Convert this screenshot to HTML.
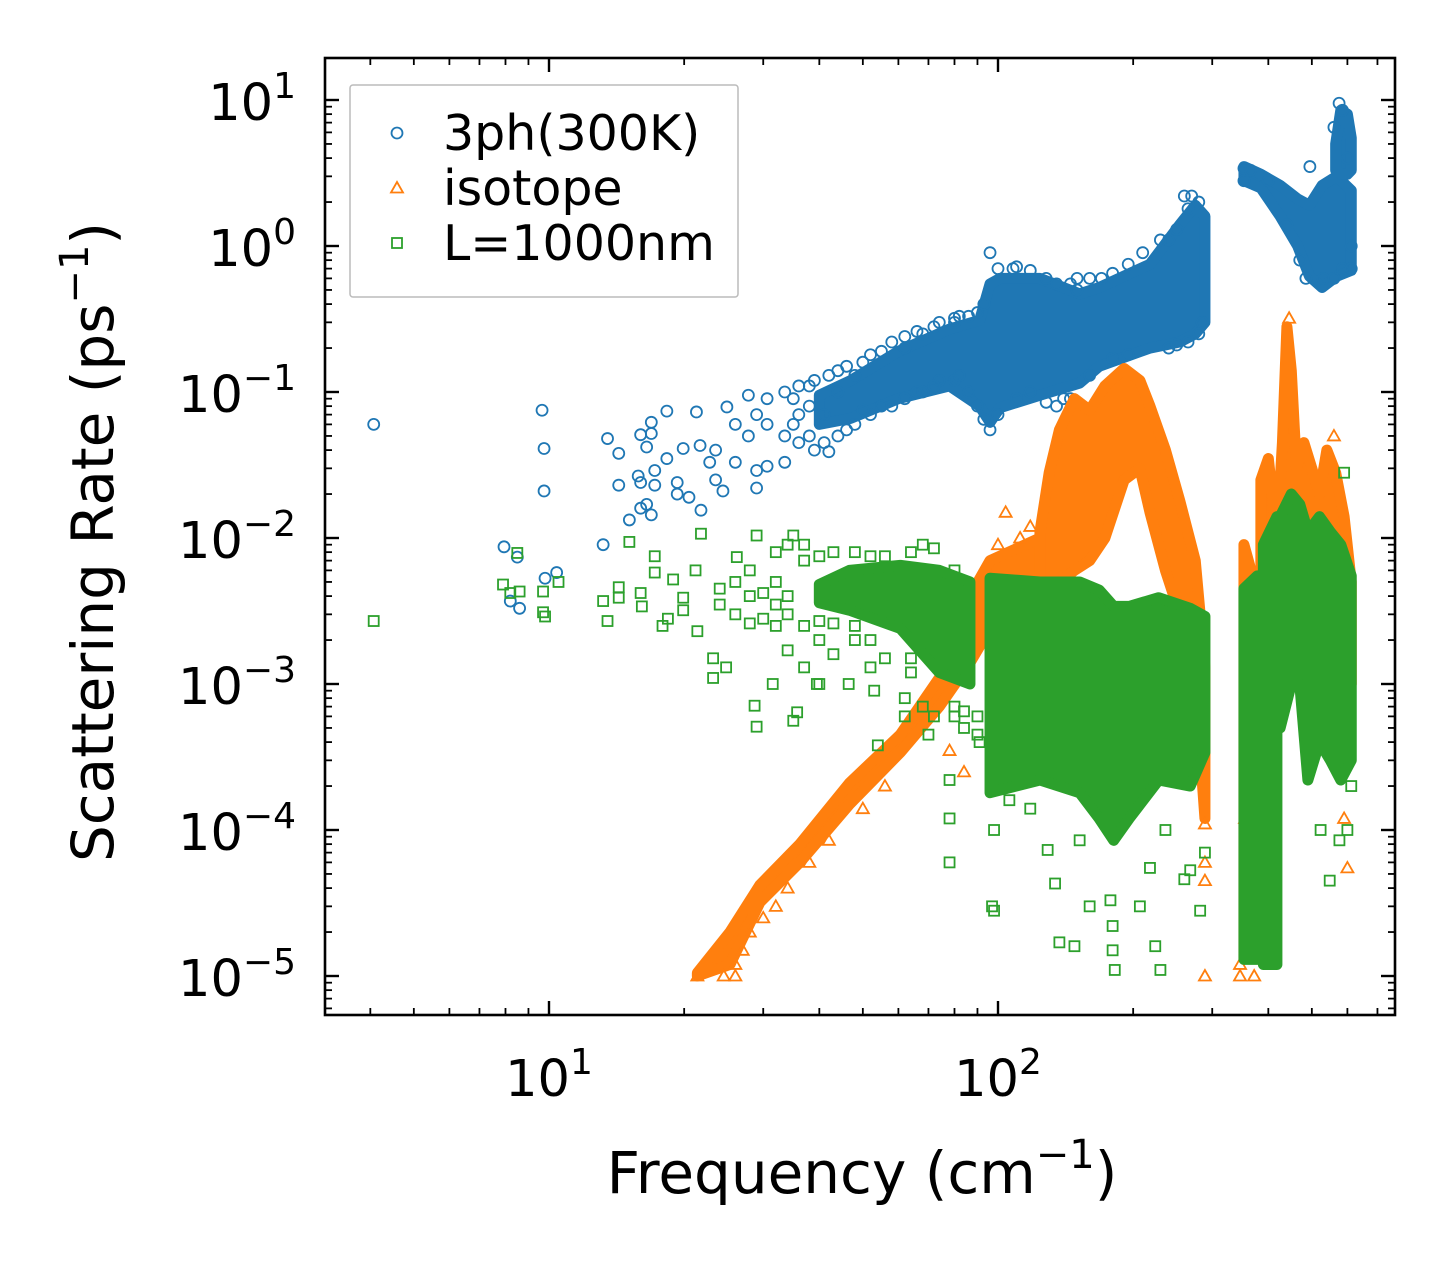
<!DOCTYPE html>
<html><head><meta charset="utf-8"><style>
html,body{margin:0;padding:0;background:#fff;}
svg{display:block;font-family:"DejaVu Sans","Liberation Sans",sans-serif;}
</style></head>
<body>
<svg id="chart" width="1455" height="1265" viewBox="0 0 1455 1265" xmlns="http://www.w3.org/2000/svg">
<defs><clipPath id="plotclip"><rect x="325" y="58" width="1070" height="957"/></clipPath></defs>
<rect x="0" y="0" width="1455" height="1265" fill="#fff"/>
<g id="marks" clip-path="url(#plotclip)"></g>
<g id="ticks"></g>
<rect x="325" y="58" width="1070" height="957" fill="none" stroke="#000" stroke-width="2.6"/>
<text x="862" y="1193" font-size="58" text-anchor="middle">Frequency (cm<tspan font-size="40" dy="-25">−1</tspan><tspan dy="25">)</tspan></text>
<text transform="translate(113,542) rotate(-90)" font-size="58" text-anchor="middle">Scattering Rate (ps<tspan font-size="40" dy="-25">−1</tspan><tspan dy="25">)</tspan></text>
<g>
<rect x="350" y="85" width="388" height="212" fill="#fff" fill-opacity="0.85" stroke="#bbb" stroke-width="1.5" rx="3"/>
<g><circle cx="397" cy="133" r="5.5" fill="none" stroke="#1f77b4" stroke-width="1.8"/><text x="443" y="150" font-size="49">3ph(300K)</text></g>
<g><polygon points="397,182 391,192.5 403,192.5" fill="none" stroke="#ff7f0e" stroke-width="1.8"/><text x="443" y="205" font-size="49">isotope</text></g>
<g><rect x="392" y="238" width="10" height="10" fill="none" stroke="#2ca02c" stroke-width="1.8"/><text x="443" y="260" font-size="49">L=1000nm</text></g>
</g>
</svg>
<script>
// individual points, columns: [frequency, rate, rate, ...]
const threePh = [
[4.07,.060],[7.94,.0087],[8.2,.0037],[8.5,.0074],[8.6,.0033],[9.65,.075],[9.75,.041,.021],[9.8,.0053],[10.4,.0058],[13.2,.009],[13.5,.048],[14.3,.038,.023],[15.1,.0133],[15.8,.0266],[16,.051,.016,.024],[16.5,.017,.042],[16.9,.0144,.062,.052],[17.2,.029,.023],[18.3,.074,.035],[19.3,.020,.024],[19.9,.041],[20.5,.019],[21.3,.073],[21.7,.043],[21.8,.0155],[22.8,.033],[23.5,.025,.040],[24.4,.021],[24.9,.079],[26,.033,.06],[27.8,.095,.05],[29,.022,.029,.07],[30.6,.031,.06,.09],[33.5,.033,.05,.1],[36,.045,.07,.11],[39,.040,.12],[42,.039,.13],[46,.055,.15],[52,.07,.18],[58,.08,.22],[66,.1,.26],[74,.12,.3],[82,.13,.33],[96,.055,.9],[100,.07,.7],[108,.7],[140,.09],[150,.5,.6],[170,.6],[210,.9],[230,1.1],[260,2.2],[270,2.2],[285,.3],
[35,.06,.09],[38,.05,.08,.11],[41,.045,.07],[44,.05,.1,.14],[48,.06,.13],[50,.075,.16],[55,.08,.19],[62,.09,.2,.24],[68,.1,.25],[72,.11,.28],[80,.12,.3,.32],[86,.1,.33],[90,.08,.35],[93,.065,.4],[110,.09,.72],[118,.1,.68],[128,.085,.6],[135,.08,.55],[145,.09,.55],[160,.13,.6],[180,.17,.65],[195,.18,.75],[240,.2,1.1],[250,.21,1.3],[265,.22,1.8],[280,.25,2.0],
[353,3.4,2.8],[365,3.3],[400,2.8],[440,1.4],[470,.8],[485,.6],[495,3.5],[530,.6],[560,.6,6.5],[575,9.5],[585,8.5,.7],[600,4.0],[612,1.0,.7]
];
const isotope = [
[21.4,1e-5],[24.5,1e-5],[26,1.2e-5,1e-5],[27,1.5e-5],[28,2e-5],[30,2.5e-5],[32,3e-5],[34,4e-5],[38,6e-5],[42,8.5e-5],[50,1.4e-4],[56,2e-4],
[78,3.5e-4],[84,2.5e-4],[100,9e-3],[104,1.5e-2],[112,1e-2],[118,1.2e-2],[289,1.1e-4,6e-5,4.5e-5,1e-5],[346,1.2e-5,1e-5],[355,1.2e-4],[360,2e-4],[372,1e-5],[445,3.2e-1],[560,5e-2],[590,1.2e-4],[600,5.5e-5]
];
const boundary = [
[4.07,2.7e-3],[7.9,4.8e-3],[8.2,4.2e-3],[8.5,7.9e-3],[8.6,4.3e-3],[9.7,4.3e-3,3.1e-3],[9.8,2.9e-3],[10.5,5e-3],[13.2,3.7e-3],[13.5,2.7e-3],[14.3,4.6e-3,3.9e-3],[15.1,9.4e-3],[16,4.2e-3],[16.1,3.4e-3],[17.2,7.5e-3,5.8e-3],[17.9,2.5e-3],[18.4,2.8e-3],[18.9,5.2e-3],[19.9,3.9e-3,3.2e-3],[21.2,6e-3],[21.4,2.3e-3],[21.8,1.07e-2],[23.2,1.5e-3,1.1e-3],[24.8,1.3e-3],[26.2,7.4e-3],[28.7,7.1e-4],[29,5.1e-4,1.04e-2],[31.5,1e-3],[35,1.04e-2,5.6e-4],[35.7,6.4e-4],[39.5,1e-3],[40,1e-3],[46.5,1e-3],[53,9e-4],[54,3.8e-4],[62,8e-4,6e-4],[70,4.5e-4],[78,2.2e-4,1.2e-4,6e-5],[91,4e-4],[97,3e-5],[98,2e-4,1e-4,2.8e-5],[106,1.6e-4],[118,1.4e-4],[129,7.3e-5],[134,4.3e-5],[137,1.7e-5],[148,1.6e-5],[152,8.5e-5],[160,3e-5],[178,3.3e-5],[180,2.2e-5,1.5e-5],[182,1.1e-5],[207,3e-5],[218,5.5e-5],[224,1.6e-5],[230,1.1e-5],[236,1e-4],[260,4.6e-5],[268,5.3e-5],[282,2.8e-5],[289,7e-5],
[24,3.5e-3,4.5e-3],[26,3e-3,5e-3],[28,2.6e-3,4e-3,6e-3],[30,2.8e-3,4.2e-3],[32,2.5e-3,3.5e-3,5e-3,8e-3],[34,1.7e-3,3e-3,4e-3,9e-3],[37,1.3e-3,2.5e-3,7e-3,9e-3],[40,2e-3,2.7e-3,7.5e-3],[43,1.6e-3,2.6e-3,8e-3],[48,2e-3,2.5e-3,8e-3],[52,1.3e-3,2e-3,7.5e-3],[56,1.5e-3,7.5e-3],[64,1.2e-3,1.5e-3,8e-3],[68,7e-4,9e-3],[72,6e-4,8.5e-3],[80,6e-4,7e-4,6e-3],[84,5e-4,6.5e-4],[90,4.5e-4,6e-4],
[523,1e-4],[548,4.5e-5],[576,8.5e-5],[600,1e-4],[612,2e-4],[590,2.8e-2]
];
// dense regions (overlapping markers form solid blobs): envelope arrays [freq], [low], [high]
const blueBandAFreq = [40,47,60,78,91,96,101,124,152,168,218,254,275,289];
const blueBandALow  = [.06,.066,.09,.11,.08,.062,.078,.095,.115,.15,.2,.22,.25,.3];
const blueBandAHigh = [.095,.12,.19,.27,.31,.55,.6,.6,.47,.52,.75,1.4,1.9,1.6];
const blueBandBFreq = [353,385,425,465,494,527,568,612];
const blueBandBLow  = [2.8,2.5,1.6,1.0,0.62,0.52,0.62,0.68];
const blueBandBHigh = [3.5,3.1,2.6,2.1,1.9,2.6,3.0,2.4];
const blueBandCFreq = [565,580,600,612];
const blueBandCLow  = [3.3,3.1,3.1,3.3];
const blueBandCHigh = [5,8.5,8,5.5];
const isoBandAFreq = [21.4,25.3,29.5,36.2,46.7,60.6,74,86.6,96,124];
const isoBandALow  = [1e-5,1.2e-5,3.2e-5,6e-5,1.5e-4,3.4e-4,7e-4,1.4e-3,2.4e-3,2.8e-3];
const isoBandAHigh = [1.05e-5,2e-5,4.2e-5,8e-5,2.1e-4,4.5e-4,1.1e-3,4e-3,7e-3,1e-2];
const isoBandBFreq = [124,130,137,148,160,173,191,207,218,236,254,275,289];
const isoBandBLow  = [2.7e-3,4e-3,5e-3,6e-3,7e-3,1e-2,2.5e-2,3e-2,1.5e-2,6e-3,3e-3,1e-3,1.2e-4];
const isoBandBHigh = [1.1e-2,2.8e-2,5.5e-2,9e-2,7.5e-2,1.1e-1,1.45e-1,1.2e-1,8e-2,4e-2,1.8e-2,7e-3,1.3e-3];
const isoBandCFreq = [353,372];
const isoBandCLow  = [1.3e-5,1e-4];
const isoBandCHigh = [9e-3,5e-3];
const isoBandDFreq = [385,400,418,430,440,450,462,480,500,520,540,565,590,612];
const isoBandDLow  = [1e-3,1e-3,1e-3,2e-3,2e-3,2e-3,2e-3,2e-3,2e-3,2e-3,2e-3,2e-3,1e-3,1e-3];
const isoBandDHigh = [2.5e-2,3.5e-2,1e-2,4.5e-2,2.8e-1,1.4e-1,3e-2,4.5e-2,3e-2,2e-2,4e-2,2.8e-2,1.4e-2,5e-3];
const grnBandAFreq = [40,46.7,60.6,74,86.6];
const grnBandALow  = [3.6e-3,3.2e-3,2.4e-3,1.2e-3,1e-3];
const grnBandAHigh = [4.8e-3,6e-3,6.5e-3,6e-3,5e-3];
const grnBandBFreq = [96,124,152,168,181,196,228,268,289];
const grnBandBLow  = [1.8e-4,2.2e-4,1.8e-4,1.2e-4,8.5e-5,1.2e-4,2.2e-4,2e-4,3.4e-4];
const grnBandBHigh = [5.3e-3,5e-3,5e-3,4.4e-3,3.4e-3,3.4e-3,3.9e-3,3.3e-3,2.9e-3];
const grnBandCFreq = [353,378];
const grnBandCLow  = [1.3e-5,1.3e-5];
const grnBandCHigh = [4.5e-3,5.5e-3];
const grnBandDFreq = [390,418];
const grnBandDLow  = [1.2e-5,1.2e-5];
const grnBandDHigh = [9e-3,1.4e-2];
const grnBandEFreq = [425,450,470,490,520,550,580,612];
const grnBandELow  = [5e-4,1e-3,1e-3,2.2e-4,4e-4,3e-4,2.2e-4,3e-4];
const grnBandEHigh = [1.4e-2,2e-2,1.7e-2,1.1e-2,1.4e-2,1.1e-2,9e-3,5.5e-3];
const yDecades = [-5,-4,-3,-2,-1,0,1];
const xDecades = [1,2];

const NS = "http://www.w3.org/2000/svg";
function xPx(f){ return 549 + (Math.log10(f) - 1) * 449; }
function yPx(r){ return 246 - Math.log10(r) * 146; }
const marks = document.getElementById('marks');
const ticks = document.getElementById('ticks');

function drawBand(freqs, lows, highs, color, name){
  const pts = [];
  for (let i = 0; i < freqs.length; i++) pts.push(xPx(freqs[i]) + ',' + yPx(highs[i]));
  for (let i = freqs.length - 1; i >= 0; i--) pts.push(xPx(freqs[i]) + ',' + yPx(lows[i]));
  const p = document.createElementNS(NS,'polygon');
  p.setAttribute('points', pts.join(' '));
  p.setAttribute('fill', color); p.setAttribute('stroke', color);
  p.setAttribute('stroke-width', '11'); p.setAttribute('stroke-linejoin', 'round');
  
  
  marks.appendChild(p);
}
function drawSeries(cols, kind, color, name){
  const g = document.createElementNS(NS,'g');
  
  
  g.setAttribute('fill','none'); g.setAttribute('stroke',color); g.setAttribute('stroke-width','1.8');
  cols.forEach(col => {
    const x = xPx(col[0]);
    for (let i = 1; i < col.length; i++){
      const y = yPx(col[i]);
      let el;
      if (kind === 'circle'){ el = document.createElementNS(NS,'circle'); el.setAttribute('cx',x); el.setAttribute('cy',y); el.setAttribute('r',5.5); }
      else if (kind === 'square'){ el = document.createElementNS(NS,'rect'); el.setAttribute('x',x-5); el.setAttribute('y',y-5); el.setAttribute('width',10); el.setAttribute('height',10); }
      else { el = document.createElementNS(NS,'polygon'); el.setAttribute('points', x+','+(y-6)+' '+(x-6)+','+(y+4.5)+' '+(x+6)+','+(y+4.5)); }
      
      
      g.appendChild(el);
    }
  });
  marks.appendChild(g);
}
const BLUE='#1f77b4', ORANGE='#ff7f0e', GREEN='#2ca02c';
drawBand(blueBandAFreq, blueBandALow, blueBandAHigh, BLUE, 'band-3ph-main');
drawBand(blueBandBFreq, blueBandBLow, blueBandBHigh, BLUE, 'band-3ph-high');
drawBand(blueBandCFreq, blueBandCLow, blueBandCHigh, BLUE, 'band-3ph-top');
drawSeries(threePh,'circle',BLUE,'series-3ph');
drawBand(isoBandAFreq, isoBandALow, isoBandAHigh, ORANGE, 'band-isotope-ramp');
drawBand(isoBandBFreq, isoBandBLow, isoBandBHigh, ORANGE, 'band-isotope-main');
drawBand(isoBandCFreq, isoBandCLow, isoBandCHigh, ORANGE, 'band-isotope-high1');
drawBand(isoBandDFreq, isoBandDLow, isoBandDHigh, ORANGE, 'band-isotope-high2');
drawSeries(isotope,'triangle',ORANGE,'series-isotope');
drawBand(grnBandAFreq, grnBandALow, grnBandAHigh, GREEN, 'band-boundary-low');
drawBand(grnBandBFreq, grnBandBLow, grnBandBHigh, GREEN, 'band-boundary-main');
drawBand(grnBandCFreq, grnBandCLow, grnBandCHigh, GREEN, 'band-boundary-high1');
drawBand(grnBandDFreq, grnBandDLow, grnBandDHigh, GREEN, 'band-boundary-high2');
drawBand(grnBandEFreq, grnBandELow, grnBandEHigh, GREEN, 'band-boundary-high3');
drawSeries(boundary,'square',GREEN,'series-boundary');

function line(x1,y1,x2,y2,w){
  const l = document.createElementNS(NS,'line');
  l.setAttribute('x1',x1); l.setAttribute('y1',y1); l.setAttribute('x2',x2); l.setAttribute('y2',y2);
  l.setAttribute('stroke','#000'); l.setAttribute('stroke-width',w);
  
  
  ticks.appendChild(l);
}
function label(x,y,exp,anchor,name){
  const t = document.createElementNS(NS,'text');
  t.setAttribute('x',x); t.setAttribute('y',y); t.setAttribute('font-size','51'); t.setAttribute('text-anchor',anchor);
  
  
  const s = (exp < 0 ? '\u2212' + (-exp) : '' + exp);
  t.innerHTML = '10<tspan font-size="36" dy="-22">' + s + '</tspan>';
  ticks.appendChild(t);
}
const L=325,R=1395,T=58,B=1015;
for (let d = -6; d <= 1; d++){
  for (let m = 1; m <= 9; m++){
    const y = yPx(m * Math.pow(10,d));
    if (y < T+1 || y > B-1) continue;
    const len = m === 1 ? 14 : 7, w = m === 1 ? 2.4 : 1.8;
    line(L,y,L+len,y,w); line(R,y,R-len,y,w);
  }
}
yDecades.forEach(d => label(296, yPx(Math.pow(10,d)) + 20, d, 'end', 'y-tick-label'));
for (let d = 0; d <= 2; d++){
  for (let m = 1; m <= 9; m++){
    const x = xPx(m * Math.pow(10,d));
    if (x < L+1 || x > R-1) continue;
    const len = m === 1 ? 14 : 7, w = m === 1 ? 2.4 : 1.8;
    line(x,B,x,B-len,w); line(x,T,x,T+len,w);
  }
}
xDecades.forEach(d => label(xPx(Math.pow(10,d)), 1096, d, 'middle', 'x-tick-label'));
</script>
</body></html>
